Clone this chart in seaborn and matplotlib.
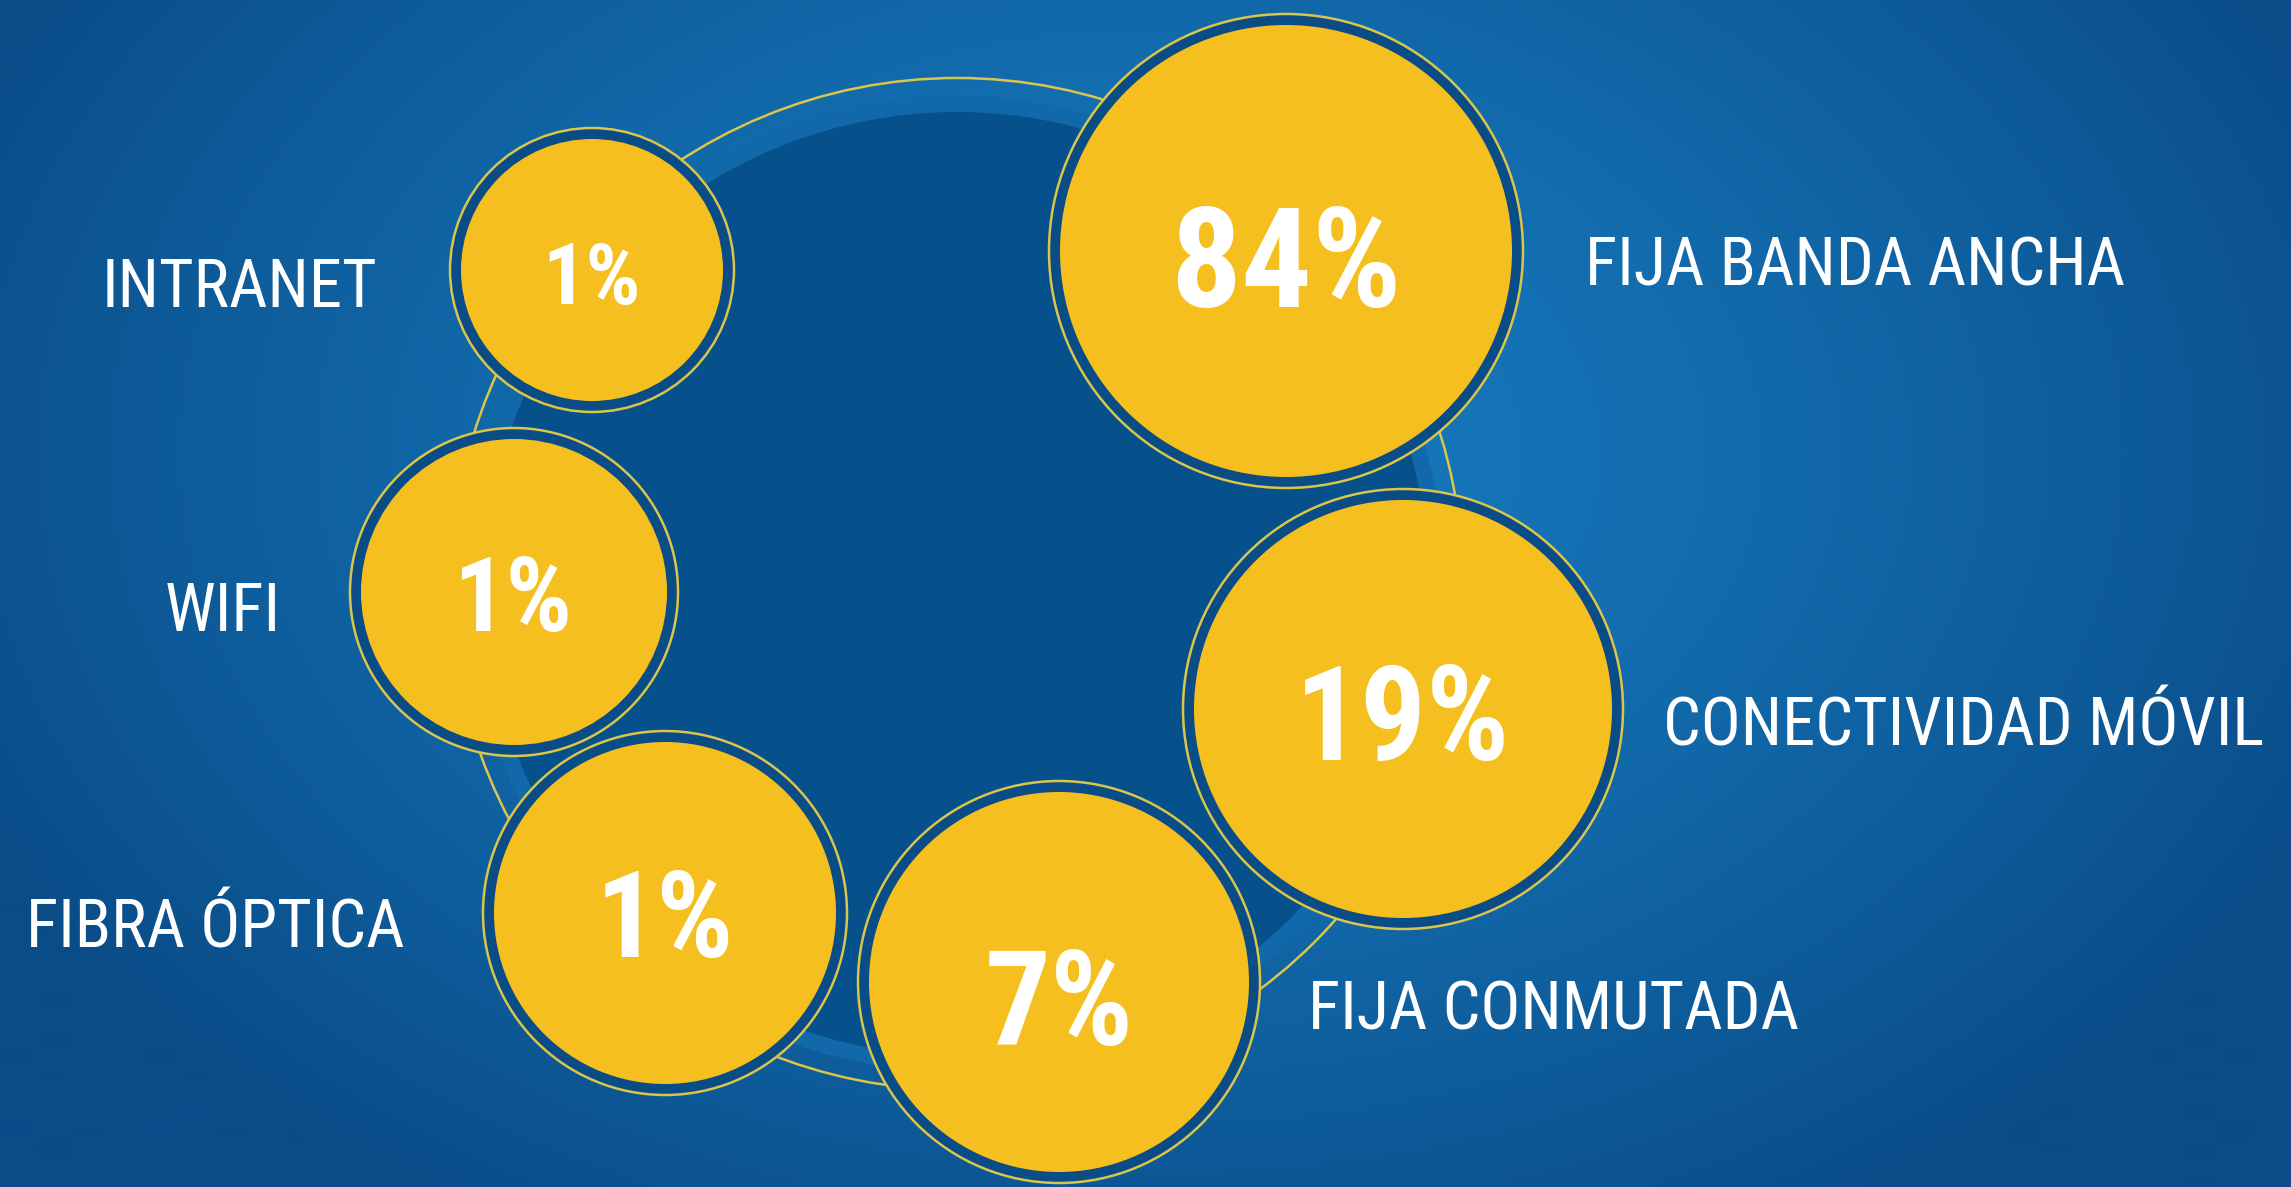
import numpy as np
import matplotlib
matplotlib.use("Agg")
import matplotlib.pyplot as plt
from matplotlib.patches import Circle
from matplotlib import font_manager
import seaborn as sns

W, H = 2291, 1187

# data
labels = ["FIJA BANDA ANCHA", "CONECTIVIDAD MÓVIL", "FIJA CONMUTADA",
          "FIBRA ÓPTICA", "WIFI", "INTRANET"]
values = [84, 19, 7, 1, 1, 1]

# layout (pixels) for each bubble
cx = [1286, 1403, 1059, 665, 514, 592]
cy = [251, 709, 982, 913, 592, 270]
rad = [226, 209, 190, 171, 153, 131]
num_size = [101, 94, 94, 87, 75, 62]
num_base = [307, 760, 1045, 957, 631, 304]
lab_x = [1585, 1663, 1308, 26, 165, 102]
lab_base = [285, 745, 1030, 947, 631, 307]

YELLOW = "#f5c01f"
RING = "#d9c64a"
DARK = "#0a4c85"


def pick_font(names):
    for n in names:
        try:
            font_manager.findfont(n, fallback_to_default=False)
            return n
        except Exception:
            continue
    return "DejaVu Sans"


sns.set_theme(style="white")
narrow = pick_font(["Liberation Sans Narrow", "Roboto Condensed", "Roboto"])
plt.rcParams["font.family"] = [narrow, "DejaVu Sans"]

fig = plt.figure(figsize=(W / 100, H / 100), dpi=100)
ax = fig.add_axes([0, 0, 1, 1])
ax.set_xlim(0, W)
ax.set_ylim(H, 0)
ax.set_aspect("equal")
ax.axis("off")

# radial blue background
yy, xx = np.mgrid[0:H:4, 0:W:4]
d = np.sqrt(((xx - 1150) / 1300.0) ** 2 + ((yy - 450) / 900.0) ** 2)
d = np.clip(d, 0, 1)
c0 = np.array([0x17, 0x7c, 0xc0]) / 255
c1 = np.array([0x0a, 0x4c, 0x88]) / 255
img = c0 + (c1 - c0) * d[..., None] ** 1.3
ax.imshow(img, extent=[0, W, H, 0], zorder=0, interpolation="bilinear")

# big central disc and its thin ring
ax.add_patch(Circle((957, 584), 488, color="#1269a9", zorder=1, lw=0))
ax.add_patch(Circle((957, 584), 472, color="#06508b", zorder=1.5, lw=0))
ax.add_patch(Circle((957, 584), 506, fill=False, ec=RING, lw=1.8, zorder=2))

for i in range(len(values)):
    x, y, r = cx[i], cy[i], rad[i]
    ax.add_patch(Circle((x, y), r + 11, color=DARK, lw=0, zorder=3))
    ax.add_patch(Circle((x, y), r + 11, fill=False, ec=RING, lw=1.8, zorder=4))
    ax.add_patch(Circle((x, y), r, color=YELLOW, lw=0, zorder=5))
    ax.text(x, num_base[i], f"{values[i]}%", color="white", fontsize=num_size[i],
            fontweight="bold", ha="center", va="baseline", zorder=6)
    ax.text(lab_x[i], lab_base[i], labels[i], color="white", fontsize=48,
            ha="left", va="baseline", zorder=6)

fig.savefig("out.png", dpi=100)
